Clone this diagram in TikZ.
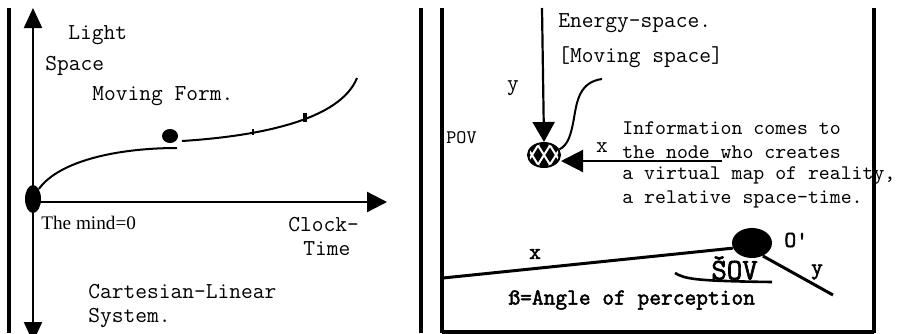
\documentclass[tikz,border=0pt]{standalone}
\usepackage{fontspec}
\setmainfont{Liberation Serif}
\newfontfamily\heavymono{Latin Modern Mono}[FakeBold=2.2]
\usetikzlibrary{positioning,arrows.meta,shapes.geometric}

\begin{document}
\begin{tikzpicture}[x=0.5pt, y=-0.5pt,
    mono/.style={font=\ttfamily\fontsize{11.4}{13}\selectfont, inner sep=0pt, anchor=west},
    monob/.style={font=\heavymono\fontsize{11.4}{13}\selectfont, inner sep=0pt},
    infotext/.style={font=\ttfamily\fontsize{10.4}{12}\selectfont, inner sep=0pt, anchor=west},
    frame/.style={line width=2pt},
    curve/.style={line width=1pt},
    axis/.style={line width=1.1pt},
    tip/.style={-{Triangle[length=10pt, width=10pt]}},
    blob/.style={ellipse, fill=black, inner sep=0pt}]
    \useasboundingbox (0,0) rectangle (898,333);

    % left panel: clock-time axes
    \coordinate (ytop) at (33,8);
    \coordinate (ybot) at (33,342);
    \coordinate (xend) at (387,202);
    \draw[axis, {Triangle[length=10pt, width=9pt]}-{Triangle[length=10pt, width=9pt]}] (ytop) -- (ybot);
    \draw[axis, tip] (33,202) -- (xend);
    \node[blob, minimum width=8pt, minimum height=14pt] (origin) at (33,199) {};
    \node[blob, minimum width=8pt, minimum height=7pt] (form) at (170,136) {};
    \coordinate (formend) at (177,148);
    \coordinate (curveend) at (357,78);
    \draw[curve] (origin.north east) .. controls (60,160) and (120,148) .. (formend);
    \draw[curve] (182,141) .. controls (260,136) and (340,120) .. (curveend);
    \draw[line width=1.2pt] (253,129) -- (253,135);
    \draw[line width=1.8pt] (305,113) -- (305,122);

    \node[mono] (light) at (68,35) {Light};
    \node[mono] (space) at (45,66) {Space};
    \node[mono] (movingform) at (92,96) {Moving Form.};
    \node[font=\fontsize{9.6}{11}\selectfont, inner sep=0pt, anchor=west] (mind) at (41,223) {The mind=0};
    \node[mono] (clock) at (288,225) {Clock-};
    \node[mono] (time) at (303,249) {Time};
    \node[mono] (cartesian) at (88,292) {Cartesian-Linear};
    \node[mono] (system) at (88,318) {System.};

    % right panel: energy-space
    \node[ellipse, draw, line width=1pt, fill=black, minimum width=16pt, minimum height=12pt, inner sep=0pt,
        path picture={
            \foreach \d in {-11,-5,1,7} {
                \draw[white, line width=1pt] ([shift={(\d pt,-8pt)}]path picture bounding box.center) -- ++(10pt,16pt);
                \draw[white, line width=1pt] ([shift={(\d pt,8pt)}]path picture bounding box.center) -- ++(10pt,-16pt);
            }
        }] (pov) at (544,155) {};
    \coordinate (ystart) at (542,8);
    \coordinate (infoline) at (722,161);
    \draw[axis, -{Triangle[length=10pt, width=11pt]}] (ystart) -- (pov.north);
    \draw[axis, -{Triangle[length=11pt, width=11pt]}] (infoline) -- (pov.east |- infoline);
    \coordinate (wave) at (602,79);
    \draw[curve] (wave) .. controls (580,82) and (577,100) .. (574,118)
        .. controls (571,135) and (568,145) .. (pov.20);

    \node[mono] (energy) at (558,23) {Energy-space.};
    \node[mono] (moving) at (558,57) {[Moving space]};
    \node[mono, anchor=center] (ylabel) at (513,88) {y};
    \node[infotext, font=\ttfamily\fontsize{9.6}{11}\selectfont] (povlabel) at (446,138) {POV};
    \node[mono, anchor=center] (xlabel) at (602,148) {x};
    \foreach \y/\t in {128/Information comes to, 152/the node who creates,
        175/{a virtual map of reality,}, 199/a relative space-time.} {
        \node[infotext] (info\y) at (622,\y) {\t};
    }

    \node[blob, minimum width=20pt, minimum height=15pt] (oprime) at (752,243) {};
    \coordinate (xfar) at (443,278);
    \coordinate (yfar) at (833,295);
    \draw[line width=1.5pt] (xfar) -- (oprime.195);
    \draw[line width=1.5pt] (oprime.-50) -- (yfar);
    \draw[line width=1.3pt] (675,273) .. controls (685,279) and (695,281) .. (772,282);
    \node[monob, anchor=west] (olabel) at (784,240) {O'};
    \node[monob] (xbottom) at (535,254) {x};
    \node[monob] (ybottom) at (817,272) {y};
    \node[monob, anchor=west, font=\heavymono\fontsize{15}{16}\selectfont] (sov) at (711,268) {ŠOV};
    \node[monob, anchor=west] (angle) at (508,300) {ß=Angle of perception};

    % panel frames
    \foreach \x in {9,421,442,874} {
        \draw[frame] (\x,8) -- (\x,333);
    }
    \draw[frame] (442,332) -- (874,332);
\end{tikzpicture}
\end{document}
